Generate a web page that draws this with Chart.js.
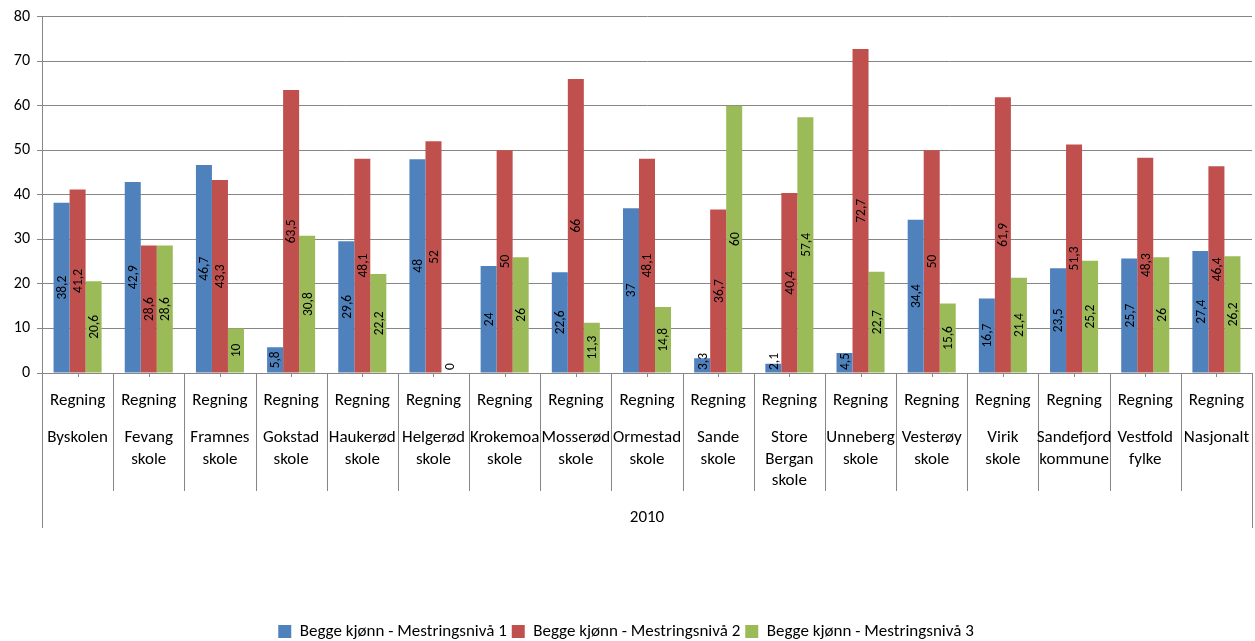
<!DOCTYPE html>
<html>
<head>
<meta charset="utf-8">
<script src="https://cdn.jsdelivr.net/npm/chart.js@4.4.1/dist/chart.umd.min.js"></script>
<style>
  html, body { margin: 0; padding: 0; background: #fff; overflow: hidden; }
  #wrap { width: 1255px; height: 650px; }
</style>
</head>
<body>
<div id="wrap"><canvas id="chart"></canvas></div>
<script>
const FONT = 'Carlito, Calibri, Lato, sans-serif';

const subject = 'Regning';
const year = '2010';
const schools = [
  ['Byskolen'], ['Fevang', 'skole'], ['Framnes', 'skole'], ['Gokstad', 'skole'],
  ['Haukerød', 'skole'], ['Helgerød', 'skole'], ['Krokemoa', 'skole'], ['Mosserød', 'skole'],
  ['Ormestad', 'skole'], ['Sande', 'skole'], ['Store', 'Bergan', 'skole'], ['Unneberg', 'skole'],
  ['Vesterøy', 'skole'], ['Virik', 'skole'], ['Sandefjord', 'kommune'], ['Vestfold', 'fylke'],
  ['Nasjonalt']
];
const level1 = [38.2, 42.9, 46.7, 5.8, 29.6, 48, 24, 22.6, 37, 3.3, 2.1, 4.5, 34.4, 16.7, 23.5, 25.7, 27.4];
const level2 = [41.2, 28.6, 43.3, 63.5, 48.1, 52, 50, 66, 48.1, 36.7, 40.4, 72.7, 50, 61.9, 51.3, 48.3, 46.4];
const level3 = [20.6, 28.6, 10, 30.8, 22.2, 0, 26, 11.3, 14.8, 60, 57.4, 22.7, 15.6, 21.4, 25.2, 26, 26.2];
const seriesNames = ['Begge kjønn - Mestringsnivå 1', 'Begge kjønn - Mestringsnivå 2', 'Begge kjønn - Mestringsnivå 3'];
const colors = ['#4F81BD', '#C0504D', '#9BBB59'];

const axisGrey = '#868686';

// value labels, rotated, in the middle of each bar
const barLabels = {
  id: 'barLabels',
  afterDatasetsDraw(chart) {
    const ctx = chart.ctx;
    const zeroY = chart.scales.y.getPixelForValue(0);
    ctx.save();
    ctx.font = '13.5px ' + FONT;
    ctx.fillStyle = '#000';
    ctx.textAlign = 'center';
    ctx.textBaseline = 'middle';
    chart.data.datasets.forEach((ds, di) => {
      chart.getDatasetMeta(di).data.forEach((bar, i) => {
        const txt = String(ds.data[i]).replace('.', ',');
        const w = ctx.measureText(txt).width;
        let cy = (bar.y + bar.base) / 2;
        if (cy + w / 2 > zeroY - 3) cy = zeroY - 3 - w / 2;
        ctx.save();
        ctx.translate(bar.x, cy);
        ctx.rotate(-Math.PI / 2);
        ctx.fillText(txt, 0, 1);
        ctx.restore();
      });
    });
    ctx.restore();
  }
};

// multi level category axis
const groupAxis = {
  id: 'groupAxis',
  afterDraw(chart) {
    const ctx = chart.ctx;
    const x = chart.scales.x;
    const area = chart.chartArea;
    const y0 = area.bottom;
    const n = schools.length;
    const step = (area.right - area.left) / n;
    ctx.save();
    ctx.strokeStyle = axisGrey;
    ctx.lineWidth = 1;
    ctx.beginPath();
    for (let i = 0; i <= n; i++) {
      const bx = Math.round(area.left + i * step) + 0.5;
      ctx.moveTo(bx, y0);
      ctx.lineTo(bx, (i === 0 || i === n) ? y0 + 155 : y0 + 118);
    }
    for (let i = 0; i < n; i++) {
      const cx = Math.round(x.getPixelForValue(i)) + 0.5;
      ctx.moveTo(cx, y0);
      ctx.lineTo(cx, y0 + 4);
    }
    ctx.stroke();

    ctx.fillStyle = '#000';
    ctx.font = '17px ' + FONT;
    ctx.textAlign = 'center';
    ctx.textBaseline = 'middle';
    for (let i = 0; i < n; i++) {
      const cx = x.getPixelForValue(i);
      ctx.fillText(subject, cx, y0 + 28);
      schools[i].forEach((line, k) => ctx.fillText(line, cx, y0 + 65 + k * 21.5));
    }
    ctx.fillText(year, (area.left + area.right) / 2, y0 + 145);
    ctx.restore();
  }
};

new Chart(document.getElementById('chart'), {
  type: 'bar',
  data: {
    labels: schools.map(s => s.join(' ')),
    datasets: [level1, level2, level3].map((d, i) => ({
      label: seriesNames[i],
      data: d,
      backgroundColor: colors[i],
      categoryPercentage: 0.675,
      barPercentage: 1
    }))
  },
  options: {
    responsive: true,
    maintainAspectRatio: false,
    animation: false,
    layout: { padding: { top: 10, right: 3, left: 0, bottom: 0 } },
    scales: {
      x: {
        ticks: { display: false },
        grid: { display: false },
        border: { display: false },
        afterFit(scale) { scale.height = 245; }
      },
      y: {
        min: 0,
        max: 80,
        ticks: { stepSize: 10, color: '#000', font: { family: FONT, size: 16 }, padding: 7 },
        grid: { color: axisGrey, tickLength: 5 },
        border: { color: axisGrey },
        afterFit(scale) { scale.width = 42; }
      }
    },
    plugins: {
      legend: {
        position: 'bottom',
        labels: {
          boxWidth: 13,
          boxHeight: 13,
          padding: 5,
          color: '#000',
          font: { family: FONT, size: 17 }
        }
      },
      tooltip: { enabled: false }
    }
  },
  plugins: [barLabels, groupAxis]
});
</script>
</body>
</html>
